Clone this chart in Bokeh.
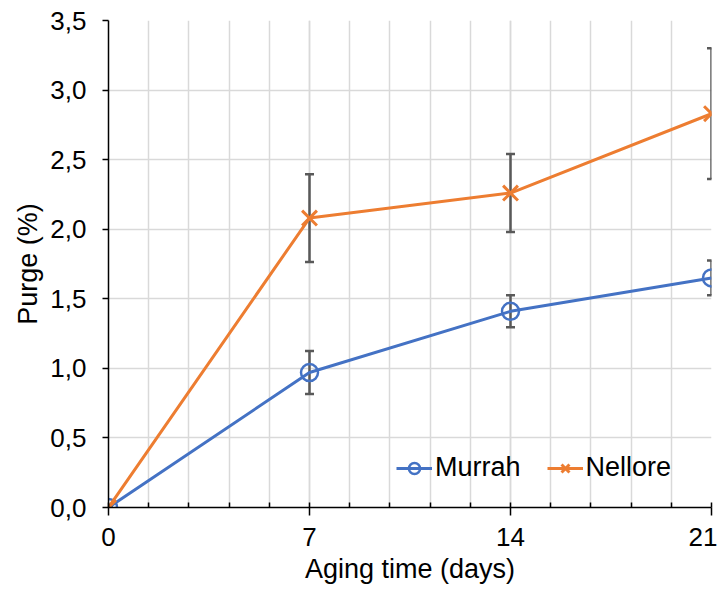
from bokeh.plotting import figure
from bokeh.models import ColumnDataSource, Whisker, TeeHead, FixedTicker, Range1d, Legend
from bokeh.embed import file_html
from bokeh.resources import INLINE

days = [0, 7, 14, 21]
murrah = [0.0, 0.97, 1.41, 1.65]
murrah_err = [0.0, 0.155, 0.115, 0.125]
nellore = [0.0, 2.08, 2.26, 2.83]
nellore_err = [0.0, 0.315, 0.28, 0.47]
x_tick_labels = ["0", "7", "14", "21"]
x_minor_ticks = [0, 1.4, 2.8, 4.2, 5.6, 7, 8.4, 9.8, 11.2, 12.6, 14, 15.4, 16.8, 18.2, 19.6, 21]
y_ticks = [0.0, 0.5, 1.0, 1.5, 2.0, 2.5, 3.0, 3.5]
y_tick_labels = ["0,0", "0,5", "1,0", "1,5", "2,0", "2,5", "3,0", "3,5"]

BLUE = "#4472C4"
ORANGE = "#ED7D31"
GRID = "#d9d9d9"
ERR = "#595959"
FONT = "Liberation Sans"

p = figure(width=717, height=587, output_backend="svg", toolbar_location=None,
           x_range=Range1d(0, 21), y_range=Range1d(0, 3.5),
           min_border_left=108, min_border_right=6, min_border_top=20, min_border_bottom=80)
p.outline_line_color = None

p.xaxis.ticker = FixedTicker(ticks=days, minor_ticks=x_minor_ticks)
p.xaxis.major_label_overrides = {d: l for d, l in zip(days, x_tick_labels)}
p.yaxis.ticker = FixedTicker(ticks=y_ticks)
p.yaxis.major_label_overrides = {t: l for t, l in zip(y_ticks, y_tick_labels)}

for ax in (p.xaxis, p.yaxis):
    ax.axis_line_color = "black"
    ax.axis_line_width = 1.5
    ax.major_tick_line_color = "black"
    ax.major_tick_line_width = 1.5
    ax.minor_tick_line_color = "black"
    ax.minor_tick_line_width = 1.5
    ax.major_label_text_font = FONT
    ax.major_label_text_font_size = "26px"
    ax.major_label_text_color = "black"
    ax.axis_label_text_font = FONT
    ax.axis_label_text_font_size = "27px"
    ax.axis_label_text_font_style = "normal"
    ax.axis_label_text_color = "black"

p.xaxis.major_tick_in = 0
p.xaxis.major_tick_out = 8
p.xaxis.minor_tick_in = 5
p.xaxis.minor_tick_out = 0
p.yaxis.major_tick_in = 0
p.yaxis.major_tick_out = 6
p.yaxis.minor_tick_line_color = None
p.xaxis.axis_label = "Aging time (days)"
p.yaxis.axis_label = "Purge (%)"
p.xaxis.major_label_standoff = 12
p.yaxis.major_label_standoff = 16
p.xaxis.axis_label_standoff = 5
p.yaxis.axis_label_standoff = 4

p.xgrid.grid_line_color = GRID
p.xgrid.minor_grid_line_color = GRID
p.xgrid.grid_line_width = 1.5
p.xgrid.minor_grid_line_width = 1.5
p.ygrid.grid_line_color = GRID
p.ygrid.grid_line_width = 1.5

src_m = ColumnDataSource(dict(x=days, y=murrah,
                              lo=[v - e for v, e in zip(murrah, murrah_err)],
                              hi=[v + e for v, e in zip(murrah, murrah_err)]))
src_n = ColumnDataSource(dict(x=days, y=nellore,
                              lo=[v - e for v, e in zip(nellore, nellore_err)],
                              hi=[v + e for v, e in zip(nellore, nellore_err)]))

for src in (src_m, src_n):
    w = Whisker(source=src, base="x", lower="lo", upper="hi",
                line_color=ERR, line_width=2.5,
                upper_head=TeeHead(size=9, line_color=ERR, line_width=2.5),
                lower_head=TeeHead(size=9, line_color=ERR, line_width=2.5))
    p.add_layout(w)

lm = p.line("x", "y", source=src_m, line_color=BLUE, line_width=3)
sm = p.scatter("x", "y", source=src_m, marker="circle", size=17, fill_color=None,
               line_color=BLUE, line_width=2.5)
ln = p.line("x", "y", source=src_n, line_color=ORANGE, line_width=3)
sn = p.scatter("x", "y", source=src_n, marker="x", size=21,
               line_color=ORANGE, line_width=3)

legend = Legend(items=[("Murrah", [lm, sm]), ("Nellore", [ln, sn])],
                orientation="horizontal", location=(288, 24),
                border_line_color=None, background_fill_alpha=0,
                label_text_font=FONT, label_text_font_size="27px",
                label_text_color="black",
                glyph_width=36, glyph_height=28, label_standoff=3, spacing=26, padding=4)
p.add_layout(legend)

open("out.html", "w").write(file_html(p, INLINE))
